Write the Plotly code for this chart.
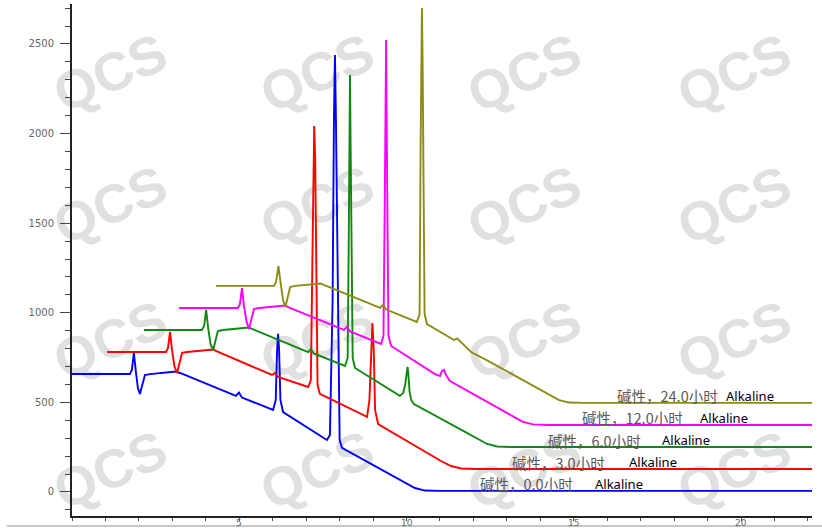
import plotly.graph_objects as go

# ---------------- data (retention time, min / detector signal) ----------------
hours = ["0.0", "3.0", "6.0", "12.0", "24.0"]

rt_0h = [0.00, 1.73, 1.79, 1.85, 1.91, 1.97, 2.03, 2.09, 2.18, 2.33, 2.93, 3.11, 3.23,
         4.90, 4.99, 5.08, 6.01, 6.09, 6.13, 6.16, 6.19, 6.23, 6.31, 7.62, 7.71, 7.79,
         7.83, 7.86, 7.89, 7.94, 8.00, 8.07, 9.60, 9.96, 10.25, 10.55, 11.00, 22.12]
sig_0h = [658, 658, 681, 776, 670, 580, 547, 591, 653, 658, 670, 672, 664,
          536, 555, 527, 458, 513, 792, 882, 792, 513, 446, 290, 318, 1071,
          2076, 2438, 2076, 1071, 290, 246, 89, 50, 22, 8, 6, 6]

rt_3h = [1.05, 2.81, 2.87, 2.93, 2.99, 3.06, 3.14, 3.20, 3.29, 3.44, 4.04, 4.22, 4.30,
         5.98, 6.07, 6.16, 7.06, 7.14, 7.19, 7.22, 7.24, 7.27, 7.30, 7.34, 7.41,
         8.82, 8.89, 8.94, 8.98, 9.02, 9.06, 9.15, 10.67, 11.03, 11.33, 11.63, 12.08, 22.12]
sig_3h = [781, 781, 804, 893, 792, 703, 664, 709, 776, 781, 792, 795, 787,
          653, 664, 642, 586, 625, 1350, 1853, 2042, 1853, 1350, 597, 547,
          419, 513, 792, 943, 792, 458, 379, 212, 173, 145, 131, 128, 128]

rt_6h = [2.15, 3.88, 3.95, 4.01, 4.07, 4.14, 4.22, 4.28, 4.36, 4.51, 5.11, 5.29, 5.38,
         7.06, 7.14, 7.23, 8.16, 8.24, 8.27, 8.29, 8.31, 8.33, 8.36, 8.39, 8.46,
         9.80, 9.90, 9.96, 10.01, 10.03, 10.05, 10.09, 10.14, 10.22,
         11.75, 12.11, 12.41, 12.71, 13.15, 22.12]
sig_6h = [904, 904, 926, 1016, 915, 826, 792, 831, 898, 904, 915, 918, 910,
          781, 798, 773, 703, 748, 1350, 1908, 2327, 1908, 1350, 748, 692,
          536, 552, 600, 670, 698, 670, 560, 513, 491,
          335, 296, 268, 254, 251, 251]

rt_12h = [3.20, 4.96, 5.02, 5.08, 5.14, 5.22, 5.29, 5.35, 5.44, 5.59, 6.19, 6.37, 6.46,
          8.13, 8.22, 8.31, 9.24, 9.31, 9.35, 9.37, 9.39, 9.40, 9.43, 9.46, 9.54,
          10.85, 11.00, 11.06, 11.12, 11.18, 11.30,
          12.83, 13.18, 13.48, 13.78, 14.23, 22.12]
sig_12h = [1027, 1027, 1049, 1138, 1038, 949, 910, 954, 1021, 1027, 1038, 1041, 1032,
           904, 923, 896, 826, 870, 1629, 2187, 2522, 2187, 1629, 870, 815,
           658, 647, 675, 681, 653, 619,
           458, 419, 391, 377, 374, 374]

rt_24h = [4.30, 6.04, 6.10, 6.17, 6.24, 6.31, 6.38, 6.44, 6.52, 6.67, 7.26, 7.44, 7.53,
          9.21, 9.30, 9.39, 10.31, 10.39, 10.42, 10.45, 10.46, 10.48, 10.50, 10.54, 10.61,
          11.42, 11.51, 11.60, 11.93, 12.38, 13.90, 14.26, 14.56, 14.86, 15.31, 22.12]
sig_24h = [1150, 1150, 1172, 1261, 1161, 1071, 1032, 1077, 1144, 1150, 1161, 1163, 1155,
           1027, 1046, 1018, 949, 993, 1908, 2411, 2701, 2411, 1908, 993, 937,
           848, 857, 840, 781, 737, 580, 541, 513, 499, 497, 497]

# label anchor positions (data units)
label_x = [12.14, 13.09, 14.17, 15.19, 16.23]
label_en_x = [15.58, 16.59, 17.58, 18.71, 19.49]
label_y = [45, 167, 290, 413, 536]

x_ticks = [5, 10, 15, 20]
y_ticks = [0, 500, 1000, 1500, 2000, 2500]

# ---------------- styling ----------------
colors = ["#0000ff", "#ff0000", "#118811", "#ff00ff", "#8c8c14"]
series = [(rt_0h, sig_0h), (rt_3h, sig_3h), (rt_6h, sig_6h), (rt_12h, sig_12h), (rt_24h, sig_24h)]

fig = go.Figure()
for (xs, ys), c in zip(series, colors):
    fig.add_trace(go.Scatter(x=xs, y=ys, mode="lines",
                             line=dict(color=c, width=1.9),
                             showlegend=False, hoverinfo="skip"))

for h, lx, ex, ly in zip(hours, label_x, label_en_x, label_y):
    fig.add_annotation(x=lx, y=ly, text="碱性，" + h + "小时", showarrow=False,
                       xanchor="left", yanchor="middle",
                       font=dict(family="Noto Sans CJK SC", size=14.5, color="#595959"))
    fig.add_annotation(x=ex, y=ly, text="Alkaline", showarrow=False,
                       xanchor="left", yanchor="middle",
                       font=dict(family="Noto Sans", size=13, color="#000000"))

# x tick labels sit just under the axis line (the reference crops them at the bottom edge)
for t in x_ticks:
    fig.add_annotation(x=t, xref="x", y=-(523 - 516) / 512, yref="paper",
                       text=str(t), showarrow=False, xanchor="center", yanchor="middle",
                       borderpad=0, font=dict(family="DejaVu Sans", size=9, color="#666666"))

# watermark
wm_x = [108, 315, 522, 732]
wm_y = [68, 200, 335, 465]
shapes = []
for py in wm_y:
    for px in wm_x:
        cx = (px - 72) / 740
        cy = (516 - py) / 512
        shapes.append(dict(type="rect", xref="paper", yref="paper",
                           x0=cx - 0.08, x1=cx + 0.08, y0=cy - 0.06, y1=cy + 0.06,
                           line=dict(width=0), fillcolor="rgba(0,0,0,0)", layer="below",
                           label=dict(text="<b>QCS</b>", textangle=-24,
                                      textposition="middle center",
                                      font=dict(family="Liberation Sans", size=54,
                                                color="#e0e0e0"))))
shapes.append(dict(type="line", xref="paper", yref="paper",
                   x0=-0.088, x1=1.02, y0=-0.0195, y1=-0.0195,
                   line=dict(color="#b4b4b4", width=1.5), layer="below"))

fig.update_layout(
    width=822, height=528,
    margin=dict(l=72, r=10, t=4, b=12, autoexpand=False),
    paper_bgcolor="white", plot_bgcolor="rgba(0,0,0,0)",
    shapes=shapes,
    xaxis=dict(range=[0, 22.12], showgrid=False, zeroline=False, automargin=False,
               showline=True, linecolor="#222222", linewidth=2,
               ticks="outside", ticklen=3, tickwidth=1, tickcolor="#444444",
               tickmode="array", tickvals=x_ticks, showticklabels=False,
               minor=dict(ticks="outside", tickmode="linear", tick0=0, dtick=1,
                          ticklen=3, tickcolor="#444444", showgrid=False)),
    yaxis=dict(range=[-134, 2723], showgrid=False, zeroline=False, automargin=False,
               showline=True, linecolor="#222222", linewidth=2,
               ticks="outside", ticklen=10, tickwidth=1, tickcolor="#444444",
               tickmode="array", tickvals=y_ticks, ticklabelstandoff=4,
               minor=dict(ticks="outside", tickmode="linear", tick0=0, dtick=100,
                          ticklen=5, tickcolor="#444444", showgrid=False),
               tickfont=dict(family="DejaVu Sans", size=10, color="#666666")),
)

fig.write_html("out.html", config={"displayModeBar": False},
               post_script="document.body.style.margin='0';document.body.style.padding='0';")
